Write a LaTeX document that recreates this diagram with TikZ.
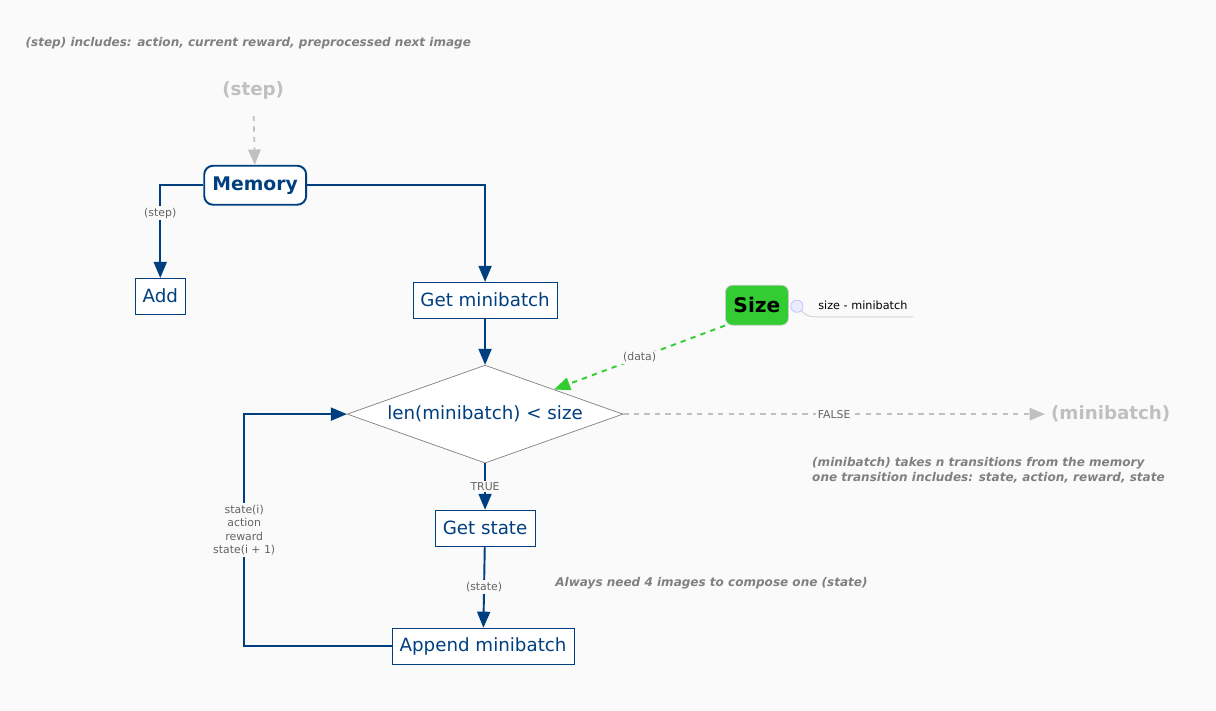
\documentclass[tikz,border=0pt]{standalone}
\usepackage{fontspec}
\setmainfont{DejaVu Sans}
\usetikzlibrary{positioning}
\usetikzlibrary{arrows,shapes}
\usetikzlibrary{shapes.geometric}
\definecolor{flowblue}{RGB}{0,63,127}
\definecolor{sizegreen}{RGB}{51,204,51}
\definecolor{notegray}{RGB}{128,128,128}
\definecolor{labelgray}{RGB}{100,100,100}
\definecolor{ghostgray}{RGB}{192,192,192}
\definecolor{bggray}{RGB}{250,250,250}
\tikzstyle{box}=[rectangle,draw=flowblue,fill=white,text=flowblue,minimum height=0.72cm,inner xsep=0.15cm,font=\fontsize{10.4}{12}\selectfont]
\tikzstyle{memorybox}=[box,rounded corners=5pt,line width=1.1pt,minimum width=2.04cm,minimum height=0.78cm,font=\fontsize{10.7}{12}\selectfont\bfseries]
\tikzstyle{decision}=[diamond,draw=gray,fill=white,text=flowblue,aspect=2.8,inner sep=0pt,minimum width=5.52cm,minimum height=1.96cm,font=\fontsize{10.4}{12}\selectfont]
\tikzstyle{sizebox}=[rectangle,rounded corners=4pt,draw=black!20,fill=sizegreen,minimum width=1.26cm,minimum height=0.8cm,font=\fontsize{11.5}{12}\selectfont\bfseries]
\tikzstyle{ghostlabel}=[text=ghostgray,font=\fontsize{10.4}{12}\selectfont\bfseries]
\tikzstyle{flow}=[-triangle 45,line width=1.1pt,draw=flowblue]
\tikzstyle{ghost}=[-triangle 45,dashed,line width=1pt,draw=ghostgray]
\tikzstyle{dataflow}=[-triangle 45,dashed,line width=1.1pt,draw=sizegreen]
\tikzstyle{weight}=[font=\fontsize{6.2}{7.6}\selectfont,text=labelgray,fill=bggray,inner sep=1pt,align=center]
\tikzstyle{note}=[font=\fontsize{6.85}{8.5}\selectfont\bfseries\itshape,text=notegray,align=left,anchor=west,inner sep=0pt]

\begin{document}
\begin{tikzpicture}[x=0.02cm,y=-0.02cm]

   \draw[fill=bggray,draw=bggray] (0,0) rectangle (1216,710);

  \node[note] (stepnote) at (25,43) {(step) includes: action, current reward, preprocessed next image};
  \node[ghostlabel] (step) at (253,90) {(step)};
  \node[memorybox] (memory) at (255,185) {Memory};

    \foreach \pos/\name/\txt in {{(160,296)/add/Add}, {(485,300)/getmb/Get minibatch}, {(485,528)/getstate/Get state}, {(483,646)/append/Append minibatch}}
        \node[box] (\name) at \pos {\txt};

  \node[decision] (check) at (485,414) {len(minibatch) < size};
  \node[sizebox] (size) at (757,305) {Size};
  \node[circle,draw=blue!25,fill=blue!8,minimum size=7pt,inner sep=0pt] (fold) at (797,306) {};
  \node[font=\fontsize{6.4}{8}\selectfont,inner sep=1pt] (sizenote) at (863,305) {size - minibatch};
  \node[ghostlabel] (minibatch) at (1111,414) {(minibatch)};

  \node[note] (mbnote) at (812,470) {(minibatch) takes n transitions from the memory\\one transition includes: state, action, reward, state};
  \node[note] (statenote) at (555,583) {Always need 4 images to compose one (state)};

  \coordinate (loopcorner) at (244,646);

\draw[gray!45] (fold.south east) to[out=-50,in=180] ([yshift=-3pt]sizenote.south west) -- ([yshift=-3pt,xshift=2pt]sizenote.south east);

\draw[ghost, shorten <=6pt] (step) -- (memory);
\draw[flow] (memory.west) -| node[weight, pos=0.65]{(step)} (add.north);
\draw[flow] (memory.east) -| (getmb.north);
\draw[flow] (getmb) -- (check);
\draw[flow] (check) -- node[weight]{TRUE} (getstate);
\draw[flow] (getstate) -- node[weight]{(state)} (append);
\draw[flow] (append.west) -- (loopcorner) |- node[weight, pos=0.25]{state(i)\\action\\reward\\state(i + 1)} (check.west);
\draw[ghost] (check.east) -- node[weight]{FALSE} (minibatch.west);
\draw[dataflow] (size.south west) -- node[weight]{(data)} (check.north east);

\end{tikzpicture}
\end{document}
